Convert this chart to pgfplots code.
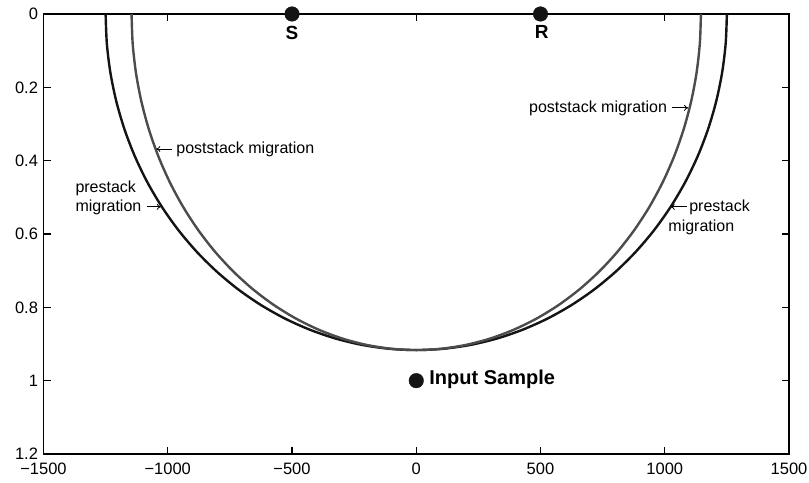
\documentclass[border=0pt]{standalone}
\usepackage{fontspec}
\setmainfont{Liberation Sans}
\usepackage{pgfplots}
\pgfplotsset{compat=1.18}
\usetikzlibrary{arrows.meta}

\definecolor{prestackcol}{gray}{0.08}
\definecolor{poststackcol}{gray}{0.3}

\begin{document}
\begin{tikzpicture}
\begin{axis}[
  name=ax,
  scale only axis,
  width=745.5pt, height=440pt,
  xmin=-1500, xmax=1500,
  ymin=0, ymax=1.2,
  y dir=reverse,
  xtick={-1500,-1000,-500,0,500,1000,1500},
  xticklabels={−1500,−1000,−500,0,500,1000,1500},
  ytick={0,0.2,0.4,0.6,0.8,1,1.2},
  yticklabels={0,0.2,0.4,0.6,0.8,1,1.2},
  tick align=inside,
  major tick length=7.5pt,
  axis line style={line width=1.2pt},
  every tick/.style={black, line width=1.2pt},
  tick label style={font=\fontsize{16.5}{18}\selectfont},
  xticklabel style={yshift=-9pt, inner ysep=0pt},
  yticklabel style={xshift=-2pt, inner ysep=0pt},
  clip=false,
]
% prestack migration: ellipse with foci at S and R
\addplot[prestackcol, line width=2.4pt, smooth] coordinates {
 (1250,0) (1245.2,0.0799) (1231.0,0.1592) (1207.4,0.2372) (1174.6,0.3135)
 (1132.9,0.3873) (1082.5,0.4583) (1023.9,0.5257) (957.6,0.5891) (883.9,0.6481)
 (803.5,0.7021) (717.0,0.7508) (625.0,0.7937) (528.3,0.8306) (427.5,0.8612)
 (323.5,0.8853) (217.1,0.9026) (109.0,0.9130) (0,0.9165)
 (-109.0,0.9130) (-217.1,0.9026) (-323.5,0.8853) (-427.5,0.8612) (-528.3,0.8306)
 (-625.0,0.7937) (-717.0,0.7508) (-803.5,0.7021) (-883.9,0.6481) (-957.6,0.5891)
 (-1023.9,0.5257) (-1082.5,0.4583) (-1132.9,0.3873) (-1174.6,0.3135) (-1207.4,0.2372)
 (-1231.0,0.1592) (-1245.2,0.0799) (-1250,0)
};
% poststack migration: semicircle after NMO
\addplot[poststackcol, line width=2.4pt, smooth] coordinates {
 (1145.6,0) (1141.2,0.0799) (1128.2,0.1592) (1106.6,0.2372) (1076.5,0.3135)
 (1038.3,0.3873) (992.1,0.4583) (938.4,0.5257) (877.6,0.5891) (810.1,0.6481)
 (736.4,0.7021) (657.1,0.7508) (572.8,0.7937) (484.2,0.8306) (391.8,0.8612)
 (296.5,0.8853) (198.9,0.9026) (99.9,0.9130) (0,0.9165)
 (-99.9,0.9130) (-198.9,0.9026) (-296.5,0.8853) (-391.8,0.8612) (-484.2,0.8306)
 (-572.8,0.7937) (-657.1,0.7508) (-736.4,0.7021) (-810.1,0.6481) (-877.6,0.5891)
 (-938.4,0.5257) (-992.1,0.4583) (-1038.3,0.3873) (-1076.5,0.3135) (-1106.6,0.2372)
 (-1128.2,0.1592) (-1141.2,0.0799) (-1145.6,0)
};
% source, receiver and input sample
\addplot[only marks, mark=*, mark size=7.3pt, color=prestackcol] coordinates {
 (-500,0) (500,0) (0,1)
};

\node[font=\fontsize{19}{20}\selectfont\bfseries] at (axis cs:-500,0.051) {S};
\node[font=\fontsize{19}{20}\selectfont\bfseries] at (axis cs:505,0.050) {R};
\node[font=\fontsize{20}{21}\selectfont\bfseries, anchor=west, inner sep=0pt] at (axis cs:52,0.995) {Input Sample};

\begin{scope}[font=\fontsize{16}{17}\selectfont, every node/.style={inner sep=0pt}]
  % left side labels
  \node[anchor=west] at (axis cs:-966,0.368) {poststack migration};
  \draw[-{To[length=4pt,width=6pt]}, line width=0.8pt] (axis cs:-982,0.368) -- (axis cs:-1046,0.368);
  \node[anchor=west] at (axis cs:-1372,0.4745) {prestack};
  \node[anchor=west] at (axis cs:-1372,0.526) {migration};
  \draw[-{To[length=4pt,width=6pt]}, line width=0.8pt] (axis cs:-1085,0.526) -- (axis cs:-1028,0.526);
  % right side labels
  \node[anchor=east] at (axis cs:1010,0.256) {poststack migration};
  \draw[-{To[length=4pt,width=6pt]}, line width=0.8pt] (axis cs:1030,0.256) -- (axis cs:1094,0.256);
  \draw[-{To[length=4pt,width=6pt]}, line width=0.8pt] (axis cs:1090,0.526) -- (axis cs:1024,0.526);
  \node[anchor=west] at (axis cs:1098,0.526) {prestack};
  \node[anchor=west] at (axis cs:1014,0.581) {migration};
\end{scope}
\end{axis}
\pgfresetboundingbox
\path ([shift={(-43.5pt,-29pt)}]ax.south west) rectangle ([shift={(20pt,14pt)}]ax.north east);
\end{tikzpicture}
\end{document}
